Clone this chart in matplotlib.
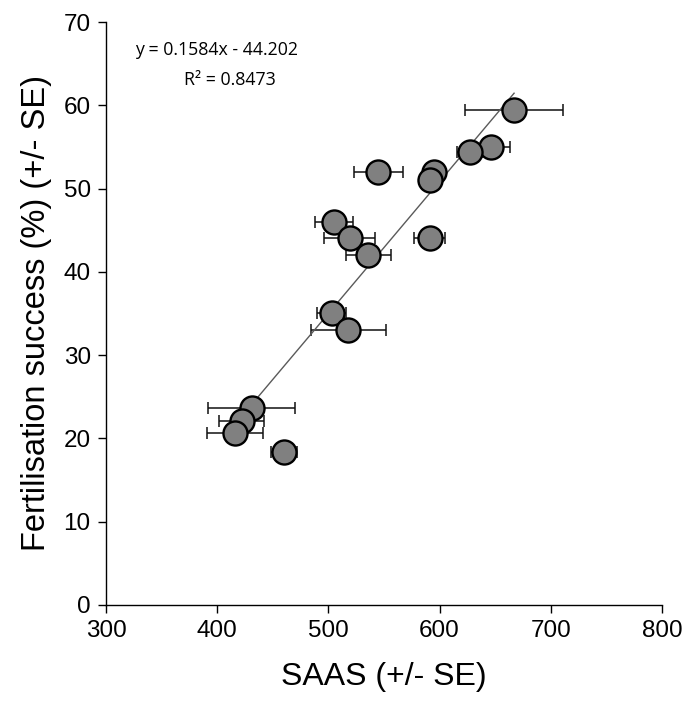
import matplotlib
matplotlib.use("Agg")
import matplotlib.pyplot as plt
import numpy as np

plt.rcParams['font.family'] = ['Liberation Sans', 'DejaVu Sans']

saas = [667, 646, 627, 595, 591, 545, 505, 519, 536, 591, 503, 518, 431, 422, 416, 460]
fert = [59.4, 55.0, 54.4, 52.0, 51.0, 52.0, 46.0, 44.1, 42.0, 44.1, 35.1, 33.0, 23.7, 22.1, 20.7, 18.4]
saas_se = [44, 17, 11, 0, 0, 22, 17, 23, 20, 14, 13, 34, 39, 20, 25, 12]

slope = 0.1584
intercept = -44.202
eq_text = "y = 0.1584x - 44.202"
r2_text = "R² = 0.8473"

xticks = [300, 400, 500, 600, 700, 800]
yticks = [0, 10, 20, 30, 40, 50, 60, 70]

fig = plt.figure(figsize=(6.89, 7.01), dpi=100)
ax = fig.add_axes([0.1538, 0.137, 0.807, 0.8316])

x = np.array(saas)
xs = np.array([x.min(), x.max()])
ax.plot(xs, slope * xs + intercept, color='#5a5a5a', lw=1.0, zorder=3)

ax.errorbar(saas, fert, xerr=saas_se, fmt='none', ecolor='#111111',
            elinewidth=1.1, capsize=4.5, capthick=1.1, zorder=2)
ax.scatter(saas, fert, s=300, facecolor='#808080', edgecolor='black',
           linewidths=1.7, zorder=4)

ax.set_xlim(300, 800)
ax.set_ylim(0, 70)
ax.set_xticks(xticks)
ax.set_yticks(yticks)
for s in ['top', 'right']:
    ax.spines[s].set_visible(False)
for s in ['left', 'bottom']:
    ax.spines[s].set_linewidth(1.0)
ax.tick_params(direction='out', length=6, width=1.0, labelsize=17.5, pad=5)

ax.set_xlabel("SAAS (+/- SE)", fontsize=23, labelpad=14)
ax.set_ylabel("Fertilisation success (%) (+/- SE)", fontsize=23.5, labelpad=8)

ax.text(399, 66.6, eq_text, ha='center', va='center', fontsize=12.8,
        family=['Open Sans', 'DejaVu Sans'])
ax.text(411.5, 63.0, r2_text, ha='center', va='center', fontsize=12.8,
        family=['Open Sans', 'DejaVu Sans'])

fig.savefig("out.png", dpi=100)
